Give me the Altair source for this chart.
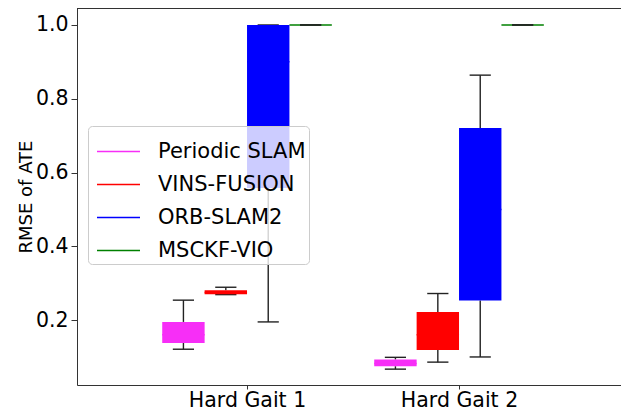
import altair as alt
import pandas as pd

groups = ["Hard Gait 1", "Hard Gait 2"]
methods = ["Periodic SLAM", "VINS-FUSION", "ORB-SLAM2", "MSCKF-VIO"]
colors = ["#f72ef7", "#ff0000", "#0000ff", "#008000"]

# per group, per method (order of methods)
w_lo = [[0.121, 0.269, 0.195, 1.0], [0.067, 0.086, 0.100, 1.0]]
q1 = [[0.138, 0.270, 0.558, 1.0], [0.075, 0.119, 0.253, 1.0]]
med = [[0.160, 0.275, 0.900, 1.0], [0.082, 0.160, 0.500, 1.0]]
q3 = [[0.195, 0.281, 1.000, 1.0], [0.093, 0.222, 0.721, 1.0]]
w_hi = [[0.254, 0.289, 1.000, 1.0], [0.099, 0.272, 0.864, 1.0]]

offsets = [-0.3, -0.1, 0.1, 0.3]
half_box = 0.1
half_cap = 0.05

rows = []
for gi, g in enumerate(groups):
    for mi, m in enumerate(methods):
        c = gi + 1 + offsets[mi]
        rows.append(dict(group=g, method=m, pos=c,
                         bx0=c - half_box, bx1=c + half_box,
                         cx0=c - half_cap, cx1=c + half_cap,
                         lo=w_lo[gi][mi], q1=q1[gi][mi], med=med[gi][mi],
                         q3=q3[gi][mi], hi=w_hi[gi][mi]))
df = pd.DataFrame(rows)

W, H = 544, 377
xs = alt.Scale(domain=[0.198, 2.764], nice=False, zero=False)
ys = alt.Scale(domain=[0.024, 1.046], nice=False, zero=False)
cs = alt.Scale(domain=methods, range=colors)

legend = alt.Legend(title=None, orient="none", legendX=11, legendY=118,
                    symbolType="stroke", symbolSize=1849, symbolStrokeWidth=1.5,
                    symbolOffset=5,
                    labelFontSize=21, labelFont="DejaVu Sans",
                    labelColor="#000000", labelOffset=17,
                    rowPadding=-2, padding=3,
                    fillColor="rgba(255,255,255,0.8)",
                    strokeColor="#cccccc", cornerRadius=4)

base = alt.Chart(df)

whisk_lo = base.mark_rule(color="#222222", strokeWidth=1.4).encode(
    x=alt.X("pos:Q", scale=xs,
            axis=alt.Axis(values=[1, 2], title=None,
                          labelExpr="datum.value == 1 ? 'Hard Gait 1' : 'Hard Gait 2'",
                          labelFontSize=20.5, labelFont="DejaVu Sans", labelColor="#000000",
                          tickSize=4, tickColor="#333333", domainColor="#333333",
                          grid=False, labelPadding=1, labelFlush=False)),
    y=alt.Y("lo:Q", scale=ys,
            axis=alt.Axis(values=[0.2, 0.4, 0.6, 0.8, 1.0], format=".1f",
                          title="RMSE of ATE", titleFontSize=18, titleFont="DejaVu Sans",
                          titleFontWeight="normal", titleColor="#000000", titlePadding=0,
                          labelFontSize=20.5, labelFont="DejaVu Sans", labelColor="#000000",
                          tickSize=6, tickColor="#333333", domainColor="#333333",
                          grid=False, labelPadding=3)),
    y2="q1:Q",
)
whisk_hi = base.mark_rule(color="#222222", strokeWidth=1.4).encode(
    x=alt.X("pos:Q", scale=xs), y=alt.Y("q3:Q", scale=ys), y2="hi:Q")
cap_lo = base.mark_rule(color="#222222", strokeWidth=1.4).encode(
    x=alt.X("cx0:Q", scale=xs), x2="cx1:Q", y=alt.Y("lo:Q", scale=ys))
cap_hi = base.mark_rule(color="#222222", strokeWidth=1.4).encode(
    x=alt.X("cx0:Q", scale=xs), x2="cx1:Q", y=alt.Y("hi:Q", scale=ys))

boxes = base.mark_rect().encode(
    x=alt.X("bx0:Q", scale=xs), x2="bx1:Q",
    y=alt.Y("q1:Q", scale=ys), y2="q3:Q",
    color=alt.Color("method:N", scale=cs, legend=legend),
)
medians = base.mark_rule(strokeWidth=1.5).encode(
    x=alt.X("bx0:Q", scale=xs), x2="bx1:Q", y=alt.Y("med:Q", scale=ys),
    color=alt.Color("method:N", scale=cs, legend=legend))

top = alt.Chart(df).mark_rule(color="#333333", strokeWidth=1).encode(
    x=alt.value(0), x2=alt.value(W), y=alt.value(0))

chart = alt.layer(medians, whisk_lo, whisk_hi, cap_lo, cap_hi, boxes, top).properties(
    width=W, height=H,
    padding={"left": 69, "top": 0, "right": 0, "bottom": 26},
    autosize=alt.AutoSizeParams(type="none"),
).configure_view(stroke=None).configure(background="white")

chart.save("out.html", embed_options={"renderer": "svg", "actions": False})
